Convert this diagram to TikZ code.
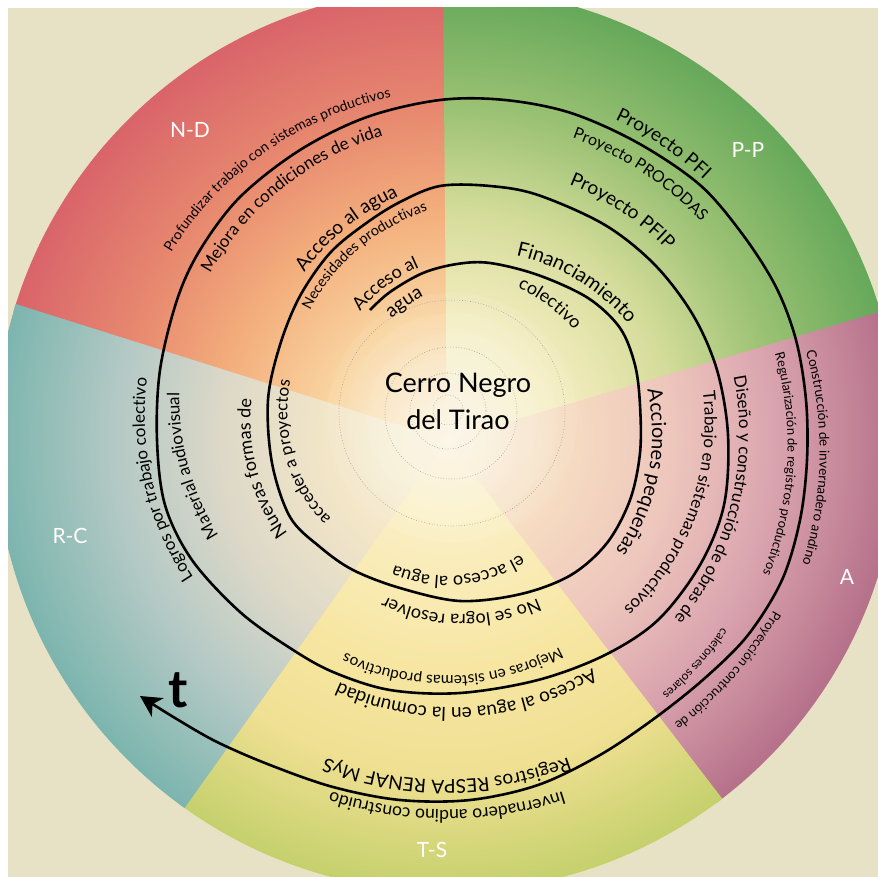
\documentclass[tikz,border=0pt]{standalone}
\usepackage{fontspec}
\setmainfont{Lato}
\usetikzlibrary{decorations.text,arrows.meta}
\definecolor{bgbeige}{HTML}{E7E2C5}
\definecolor{cen}{HTML}{FCF6DE}
\definecolor{ndA}{HTML}{F9D6A2}
\definecolor{ndB}{HTML}{F3AE7C}
\definecolor{ndC}{HTML}{E7886F}
\definecolor{ndD}{HTML}{D9646A}
\definecolor{ppA}{HTML}{F5EDC0}
\definecolor{ppB}{HTML}{D4DC9A}
\definecolor{ppC}{HTML}{9CC274}
\definecolor{ppD}{HTML}{66A85A}
\definecolor{aA}{HTML}{F6DCC2}
\definecolor{aB}{HTML}{EDC5BC}
\definecolor{aC}{HTML}{D9A3AE}
\definecolor{aD}{HTML}{B5708A}
\definecolor{tsA}{HTML}{FAEDBC}
\definecolor{tsB}{HTML}{F7E6A2}
\definecolor{tsC}{HTML}{F0E093}
\definecolor{tsD}{HTML}{C5D06C}
\definecolor{rcA}{HTML}{F3E6C8}
\definecolor{rcB}{HTML}{DCD8C8}
\definecolor{rcC}{HTML}{B4C9C5}
\definecolor{rcD}{HTML}{7CB5AE}
\pgfdeclareradialshading{ndsh}{\pgfpoint{0bp}{0bp}}{color(0bp)=(cen); color(6.6bp)=(ndA); color(12.7bp)=(ndB); color(18.3bp)=(ndC); color(25bp)=(ndD); color(50bp)=(ndD)}
\pgfdeclareradialshading{ppsh}{\pgfpoint{0bp}{0bp}}{color(0bp)=(cen); color(6.6bp)=(ppA); color(12.7bp)=(ppB); color(18.3bp)=(ppC); color(25bp)=(ppD); color(50bp)=(ppD)}
\pgfdeclareradialshading{ash}{\pgfpoint{0bp}{0bp}}{color(0bp)=(cen); color(6.6bp)=(aA); color(12.7bp)=(aB); color(18.3bp)=(aC); color(25bp)=(aD); color(50bp)=(aD)}
\pgfdeclareradialshading{tssh}{\pgfpoint{0bp}{0bp}}{color(0bp)=(cen); color(6.6bp)=(tsA); color(12.7bp)=(tsB); color(18.3bp)=(tsC); color(25bp)=(tsD); color(50bp)=(tsD)}
\pgfdeclareradialshading{rcsh}{\pgfpoint{0bp}{0bp}}{color(0bp)=(cen); color(6.6bp)=(rcA); color(12.7bp)=(rcB); color(18.3bp)=(rcC); color(25bp)=(rcD); color(50bp)=(rcD)}
% #1 centre angle (clockwise from top), #2 baseline radius, #3 radial slope, #4 half span, #5 font size, #6 text
\newcommand\arctext[6]{%
  \pgfmathsetmacro\tA{(#1)-(#4)}%
  \pgfmathsetmacro\tB{(#1)+(#4)}%
  \path[decorate,decoration={text along path,text align=center,
     text={|\fontsize{#5}{#5}\selectfont|#6}}]
    plot[domain=\tA:\tB,samples=150,variable=\q]
    ({447+((#2)+(#3)*(\q-(#1)))*sin(\q)},{440-((#2)+(#3)*(\q-(#1)))*cos(\q)});%
}
\tikzset{
  seclabel/.style={text=white,font=\fontsize{21}{21}\selectfont},
  spiral/.style={line width=2.6pt,line join=round,-{Stealth[length=21pt,width=22pt,inset=6pt]}},
  dotring/.style={gray!75,line width=0.6pt,dash pattern=on 0.7pt off 2pt}
}
\begin{document}
\begin{tikzpicture}[x=1pt,y=-1pt]
\useasboundingbox (0,0) rectangle (878,877);
\clip (0,0) rectangle (878,877);
\fill[white] (0,0) rectangle (878,877);
\fill[bgbeige] (8,8) rectangle (878,877);
% sectors
\begin{scope}
  \clip (8,8) rectangle (878,877);
  \clip (447,440) circle (452);
  \fill[cen] (447,440) circle (452);
  \foreach \a/\b/\s in {286.5/360.5/ndsh, -0.5/74.5/ppsh, 73.5/143.5/ash, 142.5/216.5/tssh, 215.5/287.5/rcsh} {
    \begin{scope}
      \pgfmathsetmacro\m{(\a+\b)/2}
      \clip (447,440) -- ({447+1200*sin(\a)},{440-1200*cos(\a)}) -- ({447+1200*sin(\m)},{440-1200*cos(\m)}) -- ({447+1200*sin(\b)},{440-1200*cos(\b)}) -- cycle;
      \shade[shading=\s] (447,440) circle (452);
    \end{scope}
  }
  % soft glow in the middle
  \foreach \r in {25,45,65,85,105,125}
    \fill[white,opacity=0.08] (452,418) circle (\r);
\end{scope}
% dotted rings
\draw[dotring] (452,413) circle (113);
\draw[dotring] (451,413) circle (66);
\draw[dotring] (448,411) circle (38);
\draw[dotring] (448,410) circle (15);
% spiral
\draw[spiral] plot[smooth,tension=0.55] coordinates {
(370,310) (390,292) (423,273) (457,264) (490,263) (538,275) (588,298) (620,328)
(635,365) (640,405) (640,453) (630,500) (607,543) (571,575) (521,594) (460,601)
(400,588) (353,570) (320,547) (290,517) (272,463) (268,400) (280,345) (300,296)
(330,253) (365,224) (400,202) (440,186) (490,186) (538,195) (605,225) (655,265)
(693,315) (717,370) (728,435) (724,505) (700,565) (658,620) (605,655) (538,680)
(460,693) (390,690) (333,672) (290,648) (240,612) (192,560) (165,505) (157,440)
(160,370) (177,300) (200,250) (240,197) (300,150) (367,117) (440,100) (505,100)
(571,113) (638,143) (700,185) (743,235) (776,287) (796,340) (806,400) (807,460)
(800,520) (782,580) (748,635) (705,678) (655,718) (600,755) (538,785) (470,800)
(400,800) (333,787) (270,765) (217,742) (175,718) (140,696)};
\coordinate (tend) at (140,696);
% centre
\node[align=center,font=\fontsize{27}{37}\selectfont] (centre) at (458,401) {Cerro Negro\\del Tirao};
% sector labels
\node[seclabel] (nd) at (190,130) {N-D};
\node[seclabel] (pp) at (748,150) {P-P};
\node[seclabel] (aa) at (847,577) {A};
\node[seclabel] (ts) at (432,850) {T-S};
\node[seclabel] (rc) at (70,536) {R-C};
\node[font=\fontsize{52}{52}\selectfont\bfseries] (tlab) at (178,690) {t};
% loop 1
\arctext{-24}{163}{0.8}{35}{18}{Acceso al}
\arctext{-19}{138}{0.8}{30}{19}{agua}
\arctext{37}{205}{0.5}{45}{20}{Financiamiento}
\arctext{37}{168}{0}{45}{18}{colectivo}
\arctext{100}{204}{-0.1}{45}{20}{Acciones pequeñas}
\arctext{175}{136}{0}{60}{18}{el acceso al agua}
\arctext{177}{175}{-0.28}{45}{18}{No se logra resolver}
\arctext{260}{192}{0.35}{35}{18}{Nuevas formas de}
\arctext{262}{153}{0.5}{40}{17}{acceder a proyectos}
% N-D
\arctext{333}{233}{1.0}{28}{19}{Acceso al agua}
\arctext{333}{208}{1.0}{32}{14.5}{Necesidades productivas}
\arctext{327}{340}{0.3}{40}{14}{Profundizar trabajo con sistemas productivos}
\arctext{326}{300}{0.5}{35}{17}{Mejora en condiciones de vida}
% P-P
\arctext{37}{287}{0.3}{30}{19}{Proyecto PFIP}
\arctext{35.5}{331}{0.3}{35}{16}{Proyecto PROCODAS}
\arctext{36}{364}{0.2}{25}{19}{Proyecto PFI}
% A
\arctext{103}{291}{-0.1}{40}{17}{Diseño y construcción de obras de}
\arctext{107}{252}{-0.3}{40}{17}{Trabajo en sistemas productivos}
\arctext{94}{341}{0.1}{30}{13}{Regularización de registros productivos}
\arctext{92.5}{373}{0.2}{30}{13.5}{Construcción de invernadero andino}
\arctext{129.5}{366}{-0.2}{20}{13}{Proyección contrucción de}
\arctext{132}{333}{0}{15}{12}{calefones solares}
% T-S
\arctext{178.5}{236}{0}{45}{15.5}{Mejoras en sistemas productivos}
\arctext{176}{268}{-0.1}{45}{19}{Acceso al agua en la comunidad}
\arctext{180}{340}{0}{30}{19}{Registros RESPA RENAF MyS}
\arctext{180}{370}{0}{30}{17.5}{Invernadero andino construido}
% R-C
\arctext{261}{297}{0.45}{35}{17}{Logros por trabajo colectivo}
\arctext{263}{259}{0.75}{28}{17}{Material audiovisual}
\end{tikzpicture}
\end{document}
